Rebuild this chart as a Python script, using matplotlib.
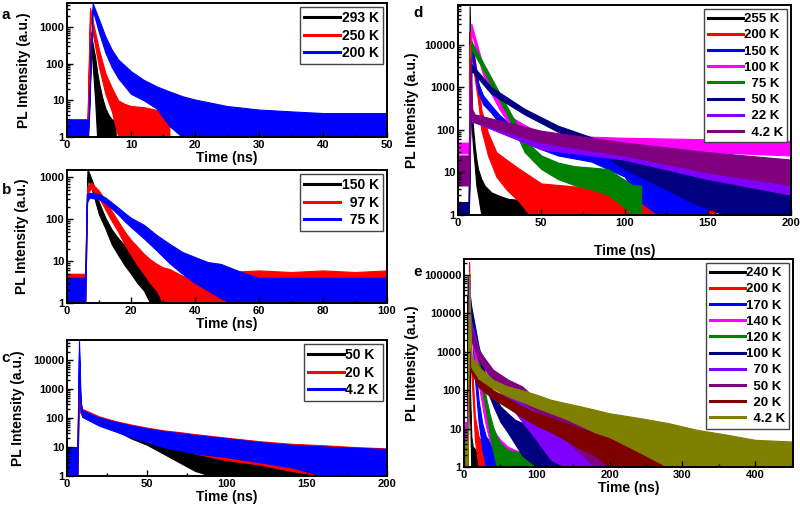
import matplotlib
matplotlib.use('Agg')
import matplotlib.pyplot as plt
from matplotlib.lines import Line2D
from matplotlib.ticker import FuncFormatter, LogLocator, MultipleLocator, NullFormatter

plt.rcParams['font.family'] = ['Liberation Sans', 'DejaVu Sans']
plt.rcParams['font.weight'] = 'bold'
plt.rcParams['axes.labelweight'] = 'bold'
plt.rcParams['axes.linewidth'] = 1.4

FS = '\u2007'  # figure space, pads labels so they line up on the right

# ---- panel a : x 0-50 ns ----
a_labels = ['293 K', '250 K', '200 K']
a_colors = ['#000000', '#ff0000', '#0000ff']
a293_t = [0, 3.3, 3.7, 4.0, 4.4, 4.7, 5.0, 5.5, 6.0, 6.5, 7.0, 7.6]
a293_hi = [3, 3, 700, 350, 150, 60, 30, 12, 6, 4, 3, 3]
a293_lo = [1, 1, 500, 100, 10, 1, 1, 1, 1, 1, 1, 1]
a250_t = [3.2, 3.6, 4.0, 5.0, 6.0, 7.0, 8.0, 9.0, 10, 12, 14, 15.5, 16]
a250_hi = [3, 3300, 1500, 240, 55, 22, 10, 8, 7, 6.5, 5.5, 4, 2.5]
a250_lo = [2, 2000, 700, 80, 15, 5, 1, 1, 1, 1, 1, 1, 1]
a200_t = [0, 3.2, 3.4, 4.0, 5, 6, 7, 8, 10, 12, 14, 16, 18, 20, 25, 30, 35, 40, 45, 50]
a200_hi = [3, 3, 3, 4500, 1600, 550, 240, 130, 62, 36, 24, 17.5, 13, 10.5, 7, 5.6, 5, 4.5, 4.5, 4.5]
a200_lo = [1, 1, 2, 3000, 700, 200, 80, 40, 15, 10, 6, 2, 1, 1, 1, 1, 1, 1, 1, 1]

# ---- panel b : x 0-100 ns ----
b_labels = ['150 K', FS + '97 K', FS + '75 K']
b_colors = ['#000000', '#ff0000', '#0000ff']
b150_t = [0, 5.7, 6.4, 8, 10, 12, 14, 16, 18, 20, 22, 24, 26, 28, 30, 32, 50, 60, 100]
b150_hi = [4, 4, 1600, 770, 250, 108, 56, 35, 24, 16, 11, 7, 5, 4, 3, 3, 5, 5, 4]
b150_lo = [1, 1, 1000, 450, 130, 60, 25, 14, 8, 5, 3, 2, 1, 1, 1, 1, 1, 1, 1]
b97_t = [0, 5.7, 6.3, 7.5, 10, 12, 14, 16, 18, 20, 22, 24, 26, 28, 30, 32, 34, 36, 38, 40, 42, 50, 60, 70, 80, 90, 100]
b97_hi = [5, 5, 600, 750, 480, 275, 156, 89, 51, 32, 22, 15, 11, 8.6, 7.1, 6.5, 5.4, 4.5, 4, 4, 5, 5.5, 6, 5.5, 6, 5.5, 6]
b97_lo = [1, 1, 400, 550, 330, 170, 90, 50, 25, 14, 8, 5, 3, 2, 1, 1, 1, 1, 1, 1, 1, 1, 1, 1, 1, 1, 1]
b75_t = [0, 5.7, 6.2, 7, 10, 12, 14, 16, 18, 20, 24, 28, 32, 36, 40, 44, 48, 52, 56, 60, 80, 100]
b75_hi = [4, 4, 400, 430, 400, 330, 250, 190, 142, 108, 74, 42, 26, 16.6, 12.5, 9.5, 8.6, 6.5, 5, 4, 4, 4]
b75_lo = [1, 1, 250, 330, 300, 240, 180, 130, 90, 65, 35, 18, 9, 5, 3, 2, 1.3, 1, 1, 1, 1, 1]

# ---- panel c : x 0-200 ns ----
c_labels = ['50 K', '20 K', '4.2 K']
c_colors = ['#000000', '#ff0000', '#0000ff']
c50_t = [0, 6, 6.5, 7.5, 8.5, 9.5, 15, 20, 30, 40, 50, 60, 70, 80, 90, 100, 120, 140, 160, 175]
c50_hi = [10, 10, 10, 3000, 300, 200, 142, 104, 57, 33, 22.5, 15, 11.6, 7.8, 5.3, 4, 3.1, 2.7, 2.5, 2.3]
c50_lo = [1, 1, 1, 1000, 150, 130, 90, 70, 40, 20, 12, 6, 3, 1.5, 1, 1, 1, 1, 1, 1]
c20_t = [0, 6, 6.5, 7.5, 8.5, 9.5, 20, 30, 40, 50, 60, 70, 80, 100, 120, 140, 160, 180, 200]
c20_hi = [10, 10, 10, 5000, 300, 210, 115, 80, 60, 47, 38, 33, 28, 21, 16, 13, 11.6, 10, 9]
c20_lo = [1, 1, 1, 1500, 150, 120, 60, 40, 25, 18, 12, 9, 6, 3.5, 2.5, 1.5, 1, 1, 1]
c4_t = [0, 6, 6.5, 7.5, 8.5, 9.5, 20, 30, 40, 50, 60, 80, 100, 120, 140, 160, 180, 200]
c4_hi = [10, 10, 10, 50000, 400, 190, 105, 75, 56, 44, 36, 26, 20, 15, 12, 10.5, 9.5, 8.5]
c4_lo = [1, 1, 1, 20000, 200, 110, 55, 35, 22, 15, 10, 6, 4.5, 3, 2, 1, 1, 1]

# ---- panel d : x 0-200 ns ----
d_labels = ['255 K', '200 K', '150 K', '100 K', FS + '75 K', FS + '50 K', FS + '22 K', FS + '4.2 K']
d_colors = ['#000000', '#ff0000', '#0000ff', '#ff00ff', '#008000', '#000080', '#8000ff', '#800080']
d255_t = [0, 6.5, 7, 8, 9, 10, 11, 12, 14, 16, 20, 25, 30, 40, 50]
d255_hi = [2, 2, 80000, 370, 120, 43, 21, 12, 7, 4.9, 3.4, 2.8, 2.4, 2.2, 2]
d255_lo = [1, 1, 20000, 150, 40, 15, 5, 3, 1, 1, 1, 1, 1, 1, 1]
d200_t = [0, 6.5, 7, 9, 12, 14, 18, 23, 29, 37, 43, 50, 75, 100, 130, 155]
d200_hi = [2, 2, 20000, 8000, 1500, 300, 85, 30, 20, 12, 8.4, 5.5, 4.5, 3.7, 3.5, 3]
d200_lo = [1, 1, 10000, 3000, 500, 100, 25, 8, 4, 2, 1, 1, 1, 1, 1, 1]
d150_t = [0, 6.5, 8, 10, 12, 15, 20, 25, 30, 40, 50, 60, 80, 100, 110, 120, 130, 140, 150]
d150_hi = [2, 2, 12000, 4000, 1300, 650, 370, 220, 150, 90, 65, 55, 45, 35, 15, 8, 5, 3, 2]
d150_lo = [1, 1, 8000, 2500, 800, 400, 250, 140, 90, 50, 35, 25, 18, 8, 2, 1, 1, 1, 1]
d100_t = [0, 6.5, 8, 10, 15, 20, 25, 30, 35, 40, 50, 75, 100, 150, 200]
d100_hi = [50, 50, 31000, 16000, 3200, 1060, 450, 225, 170, 130, 80, 70, 65, 60, 55]
d100_lo = [28, 28, 20000, 10000, 2000, 700, 300, 150, 110, 80, 45, 40, 35, 30, 25]
d75_t = [0, 6.5, 8, 15, 20, 25, 30, 35, 40, 50, 60, 70, 80, 90, 100, 105, 110]
d75_hi = [20, 20, 12000, 3800, 1660, 720, 320, 140, 58, 25, 17, 14, 13, 12, 6.7, 5, 4.9]
d75_lo = [10, 10, 8000, 2600, 1100, 480, 210, 80, 30, 12, 7, 5, 4, 3, 1.5, 1, 1]
d50_t = [0, 6.5, 8, 20, 40, 60, 80, 100, 120, 140, 160, 180, 200]
d50_hi = [2, 2, 3500, 1000, 310, 125, 67, 35, 20, 12, 7, 5, 4]
d50_lo = [1, 1, 2500, 700, 230, 90, 40, 12, 5, 2, 1, 1, 1]
d22_t = [0, 6.5, 7.5, 8.5, 10, 50, 100, 150, 200]
d22_hi = [20, 20, 3000, 300, 225, 88, 43, 21, 12]
d22_lo = [5, 5, 300, 150, 150, 35, 20, 7, 3]
d4_t = [0, 6.5, 7.5, 8.5, 10, 50, 100, 150, 200]
d4_hi = [25, 25, 5000, 300, 230, 95, 50, 30, 20]
d4_lo = [5, 5, 500, 170, 150, 50, 25, 10, 5]

# ---- panel e : x 0-450 ns ----
e_labels = ['240 K', '200 K', '170 K', '140 K', '120 K', '100 K',
            FS + '70 K', FS + '50 K', FS + '20 K', FS + '4.2 K']
e_colors = ['#000000', '#ff0000', '#0000ff', '#ff00ff', '#008000', '#000080',
            '#8000ff', '#800080', '#800000', '#808000']
e240_t = [0, 4, 5, 8, 10, 12, 20, 40, 45]
e240_hi = [4, 4, 100000, 150, 6.3, 3.4, 2.3, 1.9, 1.9]
e240_lo = [1, 1, 30000, 50, 1, 1, 1, 1, 1]
e200_t = [0, 5, 7, 10, 15, 20, 25, 30, 40, 50]
e200_hi = [3, 3, 220000, 1100, 21, 6.3, 4.2, 3.4, 2.8, 2.5]
e200_lo = [1, 1, 100000, 300, 5, 1, 1, 1, 1, 1]
e170_t = [0, 5, 6, 10, 15, 20, 25, 30, 40, 50, 60, 65]
e170_hi = [3, 3, 80000, 12000, 620, 56, 14, 6.3, 3.4, 2.8, 2.3, 2]
e170_lo = [1, 1, 40000, 6000, 200, 15, 3, 1, 1, 1, 1, 1]
e140_t = [0, 5, 7, 10, 20, 25, 30, 35, 40, 50, 60, 70, 80, 85]
e140_hi = [15, 15, 80000, 6000, 400, 100, 38, 17, 9.3, 5.1, 3.4, 2.8, 2.3, 2]
e140_lo = [5, 5, 30000, 3000, 150, 40, 12, 5, 3, 1, 1, 1, 1, 1]
e120_t = [0, 5, 7, 10, 20, 25, 30, 35, 40, 45, 50, 60, 80, 100, 115]
e120_hi = [3, 3, 30000, 8000, 930, 220, 68, 25, 11, 6.3, 4.2, 2.8, 2.3, 2.3, 2]
e120_lo = [1, 1, 15000, 4000, 500, 100, 30, 8, 2.5, 1, 1, 1, 1, 1, 1]
e100_t = [0, 5, 7, 10, 20, 30, 40, 50, 60, 70, 80, 100, 120, 140]
e100_hi = [3, 3, 30000, 15000, 1400, 230, 83, 38, 25, 17, 14, 11, 7.6, 6]
e100_lo = [1, 1, 15000, 8000, 800, 120, 40, 15, 8, 4, 2, 1, 1, 1]
e70_t = [0, 5, 7, 10, 20, 40, 60, 80, 100, 120, 140, 160, 180, 200, 230, 250]
e70_hi = [3, 3, 15000, 5600, 1200, 250, 110, 50, 22, 12, 7, 5, 3.5, 2.8, 2.3, 2]
e70_lo = [1, 1, 8000, 3000, 700, 150, 50, 15, 5, 1.5, 1, 1, 1, 1, 1, 1]
e50_t = [0, 5, 7, 10, 20, 40, 60, 80, 100, 140, 180, 220, 260, 265]
e50_hi = [3, 3, 8000, 3700, 1100, 340, 190, 125, 56, 21, 9.3, 5.1, 2.8, 2.5]
e50_lo = [1, 1, 4000, 2000, 600, 200, 110, 50, 25, 5, 1, 1, 1, 1]
e20_t = [0, 5, 7, 10, 20, 40, 60, 80, 100, 120, 140, 160, 180, 200, 220, 240, 260, 300, 320]
e20_hi = [3, 3, 1500, 500, 230, 100, 62, 38, 25, 19, 14, 10, 7.6, 6.3, 4.2, 3.8, 2.8, 2.3, 2]
e20_lo = [1, 1, 600, 300, 120, 60, 35, 20, 12, 8, 5, 3, 2, 1, 1, 1, 1, 1, 1]
e4_t = [0, 5, 7, 10, 20, 40, 60, 80, 100, 120, 140, 160, 180, 200, 240, 280, 320, 360, 400, 452]
e4_hi = [5, 5, 120000, 800, 410, 185, 125, 100, 76, 56, 46, 38, 31, 25, 19, 14, 9.3, 7, 5.1, 4.6]
e4_lo = [1, 1, 20000, 400, 200, 110, 70, 50, 35, 25, 18, 12, 8, 6, 2.5, 1, 1, 1, 1, 1]


def int_fmt(v, pos):
    return f'{int(round(v))}'


def draw_panel(ax, series, colors, labels, xmax, xstep, ymax, yticks, letter,
               letter_xy, ylabel_x, leg_fs=10, leg_sp=0.25):
    for (t, hi, lo), c in zip(series, colors):
        ax.fill_between(t, lo, hi, color=c, edgecolor=c, lw=0.8)
    ax.set_yscale('log')
    ax.set_xlim(0, xmax)
    ax.set_ylim(1, ymax)
    ax.set_yticks(yticks)
    ax.yaxis.set_major_formatter(FuncFormatter(int_fmt))
    ax.yaxis.set_minor_locator(LogLocator(base=10, subs=range(2, 10), numticks=20))
    ax.yaxis.set_minor_formatter(NullFormatter())
    ax.xaxis.set_major_locator(MultipleLocator(xstep))
    ax.xaxis.set_minor_locator(MultipleLocator(xstep / 2))
    ax.tick_params(which='both', direction='in', width=1.0, labelsize=8, pad=2)
    ax.tick_params(which='major', length=4)
    ax.tick_params(which='minor', length=2)
    ax.set_xlabel('Time (ns)', fontsize=10, labelpad=1)
    ax.set_ylabel('PL Intensity (a.u.)', fontsize=10)
    ax.yaxis.set_label_coords(ylabel_x, 0.5)
    handles = [Line2D([0], [0], color=c, lw=2.2) for c in colors]
    leg = ax.legend(handles, labels, loc='upper right', fontsize=leg_fs,
                    handlelength=2.6, handletextpad=0.1, labelspacing=leg_sp,
                    borderpad=0.3, borderaxespad=0.3, fancybox=False,
                    framealpha=1, edgecolor='#444444')
    leg.get_frame().set_linewidth(1.0)
    fig.text(letter_xy[0] / 800, 1 - letter_xy[1] / 508, letter, fontsize=11,
             fontweight='bold', ha='left', va='center')


fig = plt.figure(figsize=(8, 5.08), dpi=100)

ax_a = fig.add_axes([67 / 800, 1 - 137 / 508, 320 / 800, 134 / 508])
ax_b = fig.add_axes([67 / 800, 1 - 303 / 508, 320 / 800, 133 / 508])
ax_c = fig.add_axes([67 / 800, 1 - 476 / 508, 320 / 800, 136 / 508])
ax_d = fig.add_axes([458 / 800, 1 - 215 / 508, 333 / 800, 210 / 508])
ax_e = fig.add_axes([464 / 800, 1 - 467 / 508, 329 / 800, 208 / 508])

draw_panel(ax_a, [(a293_t, a293_hi, a293_lo), (a250_t, a250_hi, a250_lo), (a200_t, a200_hi, a200_lo)],
           a_colors, a_labels, 50, 10, 4500, [1, 10, 100, 1000], 'a', (2, 15), -0.1125)
draw_panel(ax_b, [(b150_t, b150_hi, b150_lo), (b97_t, b97_hi, b97_lo), (b75_t, b75_hi, b75_lo)],
           b_colors, b_labels, 100, 20, 1500, [1, 10, 100, 1000], 'b', (2, 190), -0.119)
draw_panel(ax_c, [(c50_t, c50_hi, c50_lo), (c20_t, c20_hi, c20_lo), (c4_t, c4_hi, c4_lo)],
           c_colors, c_labels, 200, 50, 50000, [1, 10, 100, 1000, 10000], 'c', (1, 358), -0.132)
draw_panel(ax_d, [(d255_t, d255_hi, d255_lo), (d200_t, d200_hi, d200_lo), (d150_t, d150_hi, d150_lo),
                  (d100_t, d100_hi, d100_lo), (d75_t, d75_hi, d75_lo), (d50_t, d50_hi, d50_lo),
                  (d22_t, d22_hi, d22_lo), (d4_t, d4_hi, d4_lo)],
           d_colors, d_labels, 200, 50, 85000, [1, 10, 100, 1000, 10000], 'd', (413, 13), -0.117,
           leg_fs=9.5, leg_sp=0.3)
draw_panel(ax_e, [(e240_t, e240_hi, e240_lo), (e200_t, e200_hi, e200_lo), (e170_t, e170_hi, e170_lo),
                  (e140_t, e140_hi, e140_lo), (e120_t, e120_hi, e120_lo), (e100_t, e100_hi, e100_lo),
                  (e70_t, e70_hi, e70_lo), (e50_t, e50_hi, e50_lo), (e20_t, e20_hi, e20_lo),
                  (e4_t, e4_hi, e4_lo)],
           e_colors, e_labels, 452, 100, 260000, [1, 10, 100, 1000, 10000, 100000], 'e', (413, 272), -0.137,
           leg_fs=9.5, leg_sp=0.3)
ax_d.xaxis.labelpad = 12

fig.savefig('out.png', dpi=100)
